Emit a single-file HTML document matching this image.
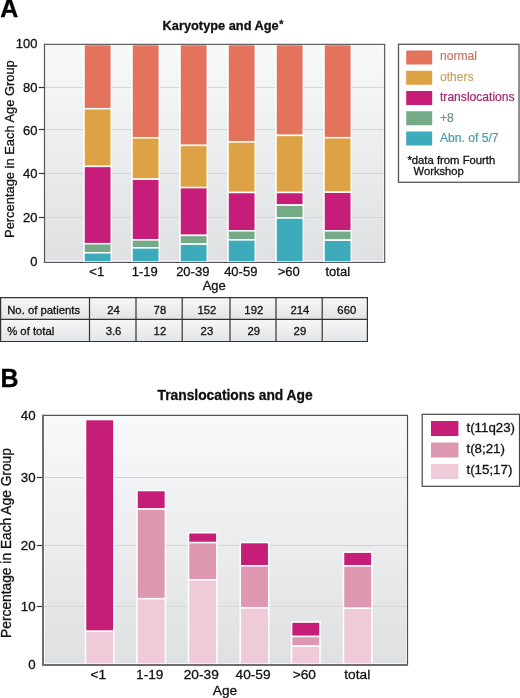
<!DOCTYPE html><html><head><meta charset="utf-8"><style>html,body{margin:0;padding:0;background:#fff;overflow:hidden}svg{display:block;will-change:transform}text{font-family:"Liberation Sans",sans-serif;stroke-width:0.3px}</style></head><body>
<svg width="520" height="698" viewBox="0 0 520 698">
<defs><linearGradient id="bgA" x1="0" y1="0" x2="0" y2="1"><stop offset="0" stop-color="#f8f9fb"/><stop offset="1" stop-color="#dfe0e2"/></linearGradient><linearGradient id="bgB" x1="0" y1="0" x2="0" y2="1"><stop offset="0" stop-color="#f8f9fb"/><stop offset="1" stop-color="#dfe0e2"/></linearGradient><linearGradient id="cell" x1="0" y1="0" x2="0" y2="1"><stop offset="0" stop-color="#f7f7f8"/><stop offset="1" stop-color="#e3e4e6"/></linearGradient></defs>
<text transform="translate(0.2 17.4) scale(1.02 1.08)" font-size="24.5" font-weight="bold" fill="#000" stroke="#000">A</text>
<text x="0.4" y="386.5" font-size="25" font-weight="bold" fill="#000" stroke="#000">B</text>
<text x="162.6" y="29.6" font-size="12.8" font-weight="bold" fill="#111" stroke="#111">Karyotype and Age<tspan font-size="10.5" dy="-1.3" dx="0.6">*</tspan></text>
<rect x="44.0" y="44.0" width="340.0" height="218.0" fill="url(#bgA)"/>
<line x1="44.0" y1="260.5" x2="384.0" y2="260.5" stroke="#ececee" stroke-width="1"/>
<line x1="383.5" y1="44.0" x2="383.5" y2="262.0" stroke="#fbfbfc" stroke-width="1"/>
<line x1="44.0" y1="87.5" x2="384.0" y2="87.5" stroke="#d4d5d7" stroke-width="1"/>
<line x1="44.0" y1="129.5" x2="384.0" y2="129.5" stroke="#d4d5d7" stroke-width="1"/>
<line x1="44.0" y1="173.5" x2="384.0" y2="173.5" stroke="#d4d5d7" stroke-width="1"/>
<line x1="44.0" y1="217.5" x2="384.0" y2="217.5" stroke="#d4d5d7" stroke-width="1"/>
<rect x="84.0" y="44.5" width="27.3" height="64.2" fill="#e3735a" stroke="#fff" stroke-width="1.5"/>
<rect x="84.0" y="108.7" width="27.3" height="57.7" fill="#dda244" stroke="#fff" stroke-width="1.5"/>
<rect x="84.0" y="166.4" width="27.3" height="77.29999999999998" fill="#c61e78" stroke="#fff" stroke-width="1.5"/>
<rect x="84.0" y="243.7" width="27.3" height="9.100000000000023" fill="#74aa86" stroke="#fff" stroke-width="1.5"/>
<rect x="84.0" y="252.8" width="27.3" height="9.199999999999989" fill="#3eabbd" stroke="#fff" stroke-width="1.5"/>
<rect x="132.0" y="44.5" width="27.3" height="93.30000000000001" fill="#e3735a" stroke="#fff" stroke-width="1.5"/>
<rect x="132.0" y="137.8" width="27.3" height="41.39999999999998" fill="#dda244" stroke="#fff" stroke-width="1.5"/>
<rect x="132.0" y="179.2" width="27.3" height="60.70000000000002" fill="#c61e78" stroke="#fff" stroke-width="1.5"/>
<rect x="132.0" y="239.9" width="27.3" height="8.0" fill="#74aa86" stroke="#fff" stroke-width="1.5"/>
<rect x="132.0" y="247.9" width="27.3" height="14.099999999999994" fill="#3eabbd" stroke="#fff" stroke-width="1.5"/>
<rect x="180.0" y="44.5" width="27.3" height="100.9" fill="#e3735a" stroke="#fff" stroke-width="1.5"/>
<rect x="180.0" y="145.4" width="27.3" height="42.19999999999999" fill="#dda244" stroke="#fff" stroke-width="1.5"/>
<rect x="180.0" y="187.6" width="27.3" height="47.80000000000001" fill="#c61e78" stroke="#fff" stroke-width="1.5"/>
<rect x="180.0" y="235.4" width="27.3" height="8.699999999999989" fill="#74aa86" stroke="#fff" stroke-width="1.5"/>
<rect x="180.0" y="244.1" width="27.3" height="17.900000000000006" fill="#3eabbd" stroke="#fff" stroke-width="1.5"/>
<rect x="228.0" y="44.5" width="27.3" height="97.4" fill="#e3735a" stroke="#fff" stroke-width="1.5"/>
<rect x="228.0" y="141.9" width="27.3" height="50.599999999999994" fill="#dda244" stroke="#fff" stroke-width="1.5"/>
<rect x="228.0" y="192.5" width="27.3" height="38.30000000000001" fill="#c61e78" stroke="#fff" stroke-width="1.5"/>
<rect x="228.0" y="230.8" width="27.3" height="9.099999999999994" fill="#74aa86" stroke="#fff" stroke-width="1.5"/>
<rect x="228.0" y="239.9" width="27.3" height="22.099999999999994" fill="#3eabbd" stroke="#fff" stroke-width="1.5"/>
<rect x="276.0" y="44.5" width="27.3" height="90.9" fill="#e3735a" stroke="#fff" stroke-width="1.5"/>
<rect x="276.0" y="135.4" width="27.3" height="57.099999999999994" fill="#dda244" stroke="#fff" stroke-width="1.5"/>
<rect x="276.0" y="192.5" width="27.3" height="12.599999999999994" fill="#c61e78" stroke="#fff" stroke-width="1.5"/>
<rect x="276.0" y="205.1" width="27.3" height="12.900000000000006" fill="#74aa86" stroke="#fff" stroke-width="1.5"/>
<rect x="276.0" y="218.0" width="27.3" height="44.0" fill="#3eabbd" stroke="#fff" stroke-width="1.5"/>
<rect x="324.0" y="44.5" width="27.3" height="93.19999999999999" fill="#e3735a" stroke="#fff" stroke-width="1.5"/>
<rect x="324.0" y="137.7" width="27.3" height="54.5" fill="#dda244" stroke="#fff" stroke-width="1.5"/>
<rect x="324.0" y="192.2" width="27.3" height="38.60000000000002" fill="#c61e78" stroke="#fff" stroke-width="1.5"/>
<rect x="324.0" y="230.8" width="27.3" height="9.399999999999977" fill="#74aa86" stroke="#fff" stroke-width="1.5"/>
<rect x="324.0" y="240.2" width="27.3" height="21.80000000000001" fill="#3eabbd" stroke="#fff" stroke-width="1.5"/>
<line x1="44" y1="44.4" x2="385.2" y2="44.4" stroke="#636363" stroke-width="1.3"/>
<line x1="384.6" y1="44" x2="384.6" y2="263" stroke="#636363" stroke-width="1.3"/>
<line x1="44.5" y1="43.8" x2="44.5" y2="263" stroke="#555" stroke-width="1.2"/>
<line x1="44" y1="262.5" x2="385.2" y2="262.5" stroke="#555" stroke-width="1.2"/>
<line x1="38.8" y1="87.5" x2="44.0" y2="87.5" stroke="#333" stroke-width="1.2"/>
<line x1="38.8" y1="129.5" x2="44.0" y2="129.5" stroke="#333" stroke-width="1.2"/>
<line x1="38.8" y1="173.5" x2="44.0" y2="173.5" stroke="#333" stroke-width="1.2"/>
<line x1="38.8" y1="217.5" x2="44.0" y2="217.5" stroke="#333" stroke-width="1.2"/>
<text x="37.5" y="47.8" font-size="13" text-anchor="end" fill="#111" stroke="#111">100</text>
<text x="37.5" y="92.1" font-size="13" text-anchor="end" fill="#111" stroke="#111">80</text>
<text x="37.5" y="134.6" font-size="13" text-anchor="end" fill="#111" stroke="#111">60</text>
<text x="37.5" y="178.3" font-size="13" text-anchor="end" fill="#111" stroke="#111">40</text>
<text x="37.5" y="222.3" font-size="13" text-anchor="end" fill="#111" stroke="#111">20</text>
<text x="37.5" y="266.3" font-size="13" text-anchor="end" fill="#111" stroke="#111">0</text>
<text x="96.75" y="275.5" font-size="13" text-anchor="middle" fill="#111" stroke="#111">&lt;1</text>
<text x="144.75" y="275.5" font-size="13" text-anchor="middle" fill="#111" stroke="#111">1-19</text>
<text x="192.75" y="275.5" font-size="13" text-anchor="middle" fill="#111" stroke="#111">20-39</text>
<text x="240.75" y="275.5" font-size="13" text-anchor="middle" fill="#111" stroke="#111">40-59</text>
<text x="288.75" y="275.5" font-size="13" text-anchor="middle" fill="#111" stroke="#111">&gt;60</text>
<text x="337.75" y="275.5" font-size="13" text-anchor="middle" fill="#111" stroke="#111">total</text>
<text x="214.2" y="289.6" font-size="13" text-anchor="middle" fill="#111" stroke="#111">Age</text>
<text transform="translate(13.9 149.1) rotate(-90)" font-size="12.9" text-anchor="middle" fill="#111" stroke="#111">Percentage in Each Age Group</text>
<rect x="398.5" y="44.3" width="120.5" height="138" fill="#fff" stroke="#555" stroke-width="1.3"/>
<rect x="406.2" y="50.5" width="26" height="14" fill="#e3735a"/>
<text x="440" y="60.2" font-size="12.1" fill="#c87565" stroke="#c87565" style="stroke-width:0.2px">normal</text>
<rect x="406.2" y="70.75" width="26" height="14" fill="#dda244"/>
<text x="440" y="80.5" font-size="12.1" fill="#c9a062" stroke="#c9a062" style="stroke-width:0.2px">others</text>
<rect x="406.2" y="91.0" width="26" height="14" fill="#c61e78"/>
<text x="440" y="100.80000000000001" font-size="12.1" fill="#a3276c" stroke="#a3276c" style="stroke-width:0.2px">translocations</text>
<rect x="406.2" y="111.25" width="26" height="14" fill="#74aa86"/>
<text x="440" y="121.60000000000001" font-size="12.1" fill="#6d9479" stroke="#6d9479" style="stroke-width:0.2px">+8</text>
<rect x="406.2" y="131.5" width="26" height="14" fill="#3eabbd"/>
<text x="440" y="141.9" font-size="12.1" fill="#4b9bab" stroke="#4b9bab" style="stroke-width:0.2px">Abn. of 5/7</text>
<text x="407.4" y="163.7" font-size="11.3" fill="#111" stroke="#111">*data from Fourth</text>
<text x="413.6" y="174.5" font-size="11.2" fill="#111" stroke="#111">Workshop</text>
<rect x="0.6" y="297.6" width="88.9" height="21.69999999999999" fill="url(#cell)"/>
<rect x="89.5" y="297.6" width="46.5" height="21.69999999999999" fill="url(#cell)"/>
<rect x="136" y="297.6" width="46.19999999999999" height="21.69999999999999" fill="url(#cell)"/>
<rect x="182.2" y="297.6" width="47.80000000000001" height="21.69999999999999" fill="url(#cell)"/>
<rect x="230" y="297.6" width="46" height="21.69999999999999" fill="url(#cell)"/>
<rect x="276" y="297.6" width="46.19999999999999" height="21.69999999999999" fill="url(#cell)"/>
<rect x="322.2" y="297.6" width="45.19999999999999" height="21.69999999999999" fill="url(#cell)"/>
<rect x="0.6" y="319.3" width="88.9" height="22.19999999999999" fill="url(#cell)"/>
<rect x="89.5" y="319.3" width="46.5" height="22.19999999999999" fill="url(#cell)"/>
<rect x="136" y="319.3" width="46.19999999999999" height="22.19999999999999" fill="url(#cell)"/>
<rect x="182.2" y="319.3" width="47.80000000000001" height="22.19999999999999" fill="url(#cell)"/>
<rect x="230" y="319.3" width="46" height="22.19999999999999" fill="url(#cell)"/>
<rect x="276" y="319.3" width="46.19999999999999" height="22.19999999999999" fill="url(#cell)"/>
<rect x="322.2" y="319.3" width="45.19999999999999" height="22.19999999999999" fill="url(#cell)"/>
<line x1="0.6" y1="297.0" x2="0.6" y2="342.1" stroke="#333" stroke-width="1.2"/>
<line x1="89.5" y1="297.0" x2="89.5" y2="342.1" stroke="#333" stroke-width="1.2"/>
<line x1="136" y1="297.0" x2="136" y2="342.1" stroke="#333" stroke-width="1.2"/>
<line x1="182.2" y1="297.0" x2="182.2" y2="342.1" stroke="#333" stroke-width="1.2"/>
<line x1="230" y1="297.0" x2="230" y2="342.1" stroke="#333" stroke-width="1.2"/>
<line x1="276" y1="297.0" x2="276" y2="342.1" stroke="#333" stroke-width="1.2"/>
<line x1="322.2" y1="297.0" x2="322.2" y2="342.1" stroke="#333" stroke-width="1.2"/>
<line x1="367.4" y1="297.0" x2="367.4" y2="342.1" stroke="#333" stroke-width="1.2"/>
<line x1="0.0" y1="297.6" x2="368.0" y2="297.6" stroke="#333" stroke-width="1.2"/>
<line x1="0.0" y1="319.3" x2="368.0" y2="319.3" stroke="#333" stroke-width="1.2"/>
<line x1="0.0" y1="341.5" x2="368.0" y2="341.5" stroke="#333" stroke-width="1.2"/>
<text x="7.2" y="313.7" font-size="11.3" fill="#111" stroke="#111">No. of patients</text>
<text x="7.2" y="335.1" font-size="11.3" fill="#111" stroke="#111">% of total</text>
<text x="113.55" y="313.5" font-size="11.3" text-anchor="middle" fill="#111" stroke="#111">24</text>
<text x="113.55" y="335.1" font-size="11.3" text-anchor="middle" fill="#111" stroke="#111">3.6</text>
<text x="159.9" y="313.5" font-size="11.3" text-anchor="middle" fill="#111" stroke="#111">78</text>
<text x="159.9" y="335.1" font-size="11.3" text-anchor="middle" fill="#111" stroke="#111">12</text>
<text x="206.9" y="313.5" font-size="11.3" text-anchor="middle" fill="#111" stroke="#111">152</text>
<text x="206.9" y="335.1" font-size="11.3" text-anchor="middle" fill="#111" stroke="#111">23</text>
<text x="253.8" y="313.5" font-size="11.3" text-anchor="middle" fill="#111" stroke="#111">192</text>
<text x="253.8" y="335.1" font-size="11.3" text-anchor="middle" fill="#111" stroke="#111">29</text>
<text x="299.90000000000003" y="313.5" font-size="11.3" text-anchor="middle" fill="#111" stroke="#111">214</text>
<text x="299.90000000000003" y="335.1" font-size="11.3" text-anchor="middle" fill="#111" stroke="#111">29</text>
<text x="346.79999999999995" y="313.5" font-size="11.3" text-anchor="middle" fill="#111" stroke="#111">660</text>
<text x="157.5" y="400" font-size="13.8" font-weight="bold" fill="#111" stroke="#111">Translocations and Age</text>
<rect x="43" y="415" width="364.5" height="249.5" fill="url(#bgB)"/>
<line x1="44" y1="663.5" x2="407" y2="663.5" stroke="#f2f3f4" stroke-width="1"/>
<line x1="44.5" y1="416" x2="44.5" y2="664" stroke="#fafafa" stroke-width="1"/>
<line x1="406.5" y1="416" x2="406.5" y2="664" stroke="#fafafa" stroke-width="1"/>
<line x1="43" y1="477.5" x2="407" y2="477.5" stroke="#d4d5d7" stroke-width="1"/>
<line x1="43" y1="545.5" x2="407" y2="545.5" stroke="#d4d5d7" stroke-width="1"/>
<line x1="43" y1="606.5" x2="407" y2="606.5" stroke="#d4d5d7" stroke-width="1"/>
<rect x="85.5" y="419.55" width="28.4" height="211.74999999999994" fill="#c61e78" stroke="#fff" stroke-width="1.5"/>
<rect x="85.5" y="631.3" width="28.4" height="32.700000000000045" fill="#efcad8" stroke="#fff" stroke-width="1.5"/>
<rect x="137.0" y="490.55" width="28.4" height="18.44999999999999" fill="#c61e78" stroke="#fff" stroke-width="1.5"/>
<rect x="137.0" y="509.0" width="28.4" height="89.70000000000005" fill="#de97b0" stroke="#fff" stroke-width="1.5"/>
<rect x="137.0" y="598.7" width="28.4" height="65.29999999999995" fill="#efcad8" stroke="#fff" stroke-width="1.5"/>
<rect x="188.5" y="532.75" width="28.4" height="9.850000000000023" fill="#c61e78" stroke="#fff" stroke-width="1.5"/>
<rect x="188.5" y="542.6" width="28.4" height="37.19999999999993" fill="#de97b0" stroke="#fff" stroke-width="1.5"/>
<rect x="188.5" y="579.8" width="28.4" height="84.20000000000005" fill="#efcad8" stroke="#fff" stroke-width="1.5"/>
<rect x="240.3" y="542.55" width="28.4" height="23.25" fill="#c61e78" stroke="#fff" stroke-width="1.5"/>
<rect x="240.3" y="565.8" width="28.4" height="42.10000000000002" fill="#de97b0" stroke="#fff" stroke-width="1.5"/>
<rect x="240.3" y="607.9" width="28.4" height="56.10000000000002" fill="#efcad8" stroke="#fff" stroke-width="1.5"/>
<rect x="291.6" y="622.05" width="28.4" height="14.450000000000045" fill="#c61e78" stroke="#fff" stroke-width="1.5"/>
<rect x="291.6" y="636.5" width="28.4" height="9.600000000000023" fill="#de97b0" stroke="#fff" stroke-width="1.5"/>
<rect x="291.6" y="646.1" width="28.4" height="17.899999999999977" fill="#efcad8" stroke="#fff" stroke-width="1.5"/>
<rect x="343.5" y="552.15" width="28.4" height="13.850000000000023" fill="#c61e78" stroke="#fff" stroke-width="1.5"/>
<rect x="343.5" y="566.0" width="28.4" height="42.299999999999955" fill="#de97b0" stroke="#fff" stroke-width="1.5"/>
<rect x="343.5" y="608.3" width="28.4" height="55.700000000000045" fill="#efcad8" stroke="#fff" stroke-width="1.5"/>
<line x1="42" y1="415.4" x2="408" y2="415.4" stroke="#555" stroke-width="1.3"/>
<line x1="407.5" y1="415" x2="407.5" y2="666" stroke="#505050" stroke-width="1.2"/>
<line x1="43" y1="414.8" x2="43" y2="666" stroke="#6e6e6e" stroke-width="2"/>
<line x1="42" y1="665" x2="408" y2="665" stroke="#6e6e6e" stroke-width="2"/>
<line x1="37" y1="477.5" x2="42" y2="477.5" stroke="#333" stroke-width="1.2"/>
<line x1="37" y1="545.5" x2="42" y2="545.5" stroke="#333" stroke-width="1.2"/>
<line x1="37" y1="606.5" x2="42" y2="606.5" stroke="#333" stroke-width="1.2"/>
<text x="35.6" y="419.5" font-size="13.3" text-anchor="end" fill="#111" stroke="#111">40</text>
<text x="35.6" y="481.7" font-size="13.3" text-anchor="end" fill="#111" stroke="#111">30</text>
<text x="35.6" y="549.7" font-size="13.3" text-anchor="end" fill="#111" stroke="#111">20</text>
<text x="35.6" y="610.7" font-size="13.3" text-anchor="end" fill="#111" stroke="#111">10</text>
<text x="35.6" y="669.0" font-size="13.3" text-anchor="end" fill="#111" stroke="#111">0</text>
<text x="98.25" y="678.6" font-size="13.7" text-anchor="middle" fill="#111" stroke="#111">&lt;1</text>
<text x="149.75" y="678.6" font-size="13.7" text-anchor="middle" fill="#111" stroke="#111">1-19</text>
<text x="201.25" y="678.6" font-size="13.7" text-anchor="middle" fill="#111" stroke="#111">20-39</text>
<text x="253.05" y="678.6" font-size="13.7" text-anchor="middle" fill="#111" stroke="#111">40-59</text>
<text x="304.35" y="678.6" font-size="13.7" text-anchor="middle" fill="#111" stroke="#111">&gt;60</text>
<text x="357.25" y="678.6" font-size="13.7" text-anchor="middle" fill="#111" stroke="#111">total</text>
<text x="225" y="694.5" font-size="13.7" text-anchor="middle" fill="#111" stroke="#111">Age</text>
<text transform="translate(10.5 543) rotate(-90)" font-size="13.77" text-anchor="middle" fill="#111" stroke="#111">Percentage in Each Age Group</text>
<rect x="422.2" y="414.3" width="97.3" height="72" fill="#fff" stroke="#444" stroke-width="1.2"/>
<rect x="431" y="421.0" width="27.4" height="15" fill="#c61e78"/>
<text x="466.5" y="431.5" font-size="13.3" fill="#111" stroke="#111">t(11q23)</text>
<rect x="431" y="442.5" width="27.4" height="15" fill="#de97b0"/>
<text x="466.5" y="452.85" font-size="13.3" fill="#111" stroke="#111">t(8;21)</text>
<rect x="431" y="464.0" width="27.4" height="15" fill="#efcad8"/>
<text x="466.5" y="474.2" font-size="13.3" fill="#111" stroke="#111">t(15;17)</text>
</svg></body></html>
